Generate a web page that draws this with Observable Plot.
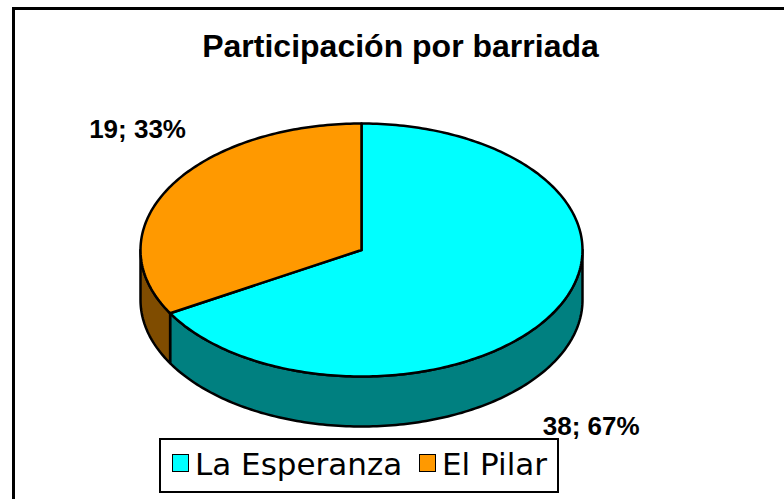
<!DOCTYPE html>
<html><head><meta charset="utf-8">
<script src="https://cdn.jsdelivr.net/npm/d3@7"></script>
<script src="https://cdn.jsdelivr.net/npm/@observablehq/plot@0.6"></script>
<style>
body{margin:0;background:#fff;}
#wrap{position:relative;width:784px;height:499px;overflow:hidden;background:#fff;}
#frame{position:absolute;left:12px;top:7px;width:820px;height:540px;border-left:3px solid #000;border-top:3px solid #000;}
#chart{position:absolute;left:0;top:0;}
#title{position:absolute;left:0;top:28px;width:801px;text-align:center;font-family:"Liberation Sans",Arial,sans-serif;font-weight:bold;font-size:32px;color:#000;}
#legend{position:absolute;left:159px;top:438px;width:396px;height:51px;border:2px solid #000;background:#fff;font-family:"DejaVu Sans",sans-serif;font-size:31px;color:#000;}
.sw{position:absolute;width:15px;height:16px;border:1.5px solid #000;}
.lt{position:absolute;line-height:1;}
</style></head><body>
<div id="wrap"><div id="frame"></div><div id="chart"></div><div id="title"></div><div id="legend"></div></div>
<script>
const title = "Participación por barriada";
const categories = ["La Esperanza", "El Pilar"];
const values = [38, 19];
const topColors = ["#00FFFF", "#FF9900"];
const sideColors = ["#008080", "#7F4C00"];

document.getElementById("title").textContent = title;

const total = d3.sum(values);
const depth = 0.395; // wall height in units of the vertical radius
const deg = Math.PI / 180;

// slice angles, clockwise from 12 o'clock
let acc = 0;
const slices = values.map((v, i) => {
  const a0 = acc / total * 2 * Math.PI;
  acc += v;
  const a1 = acc / total * 2 * Math.PI;
  return {i, v, a0, a1, cat: categories[i]};
});

function arc(a0, a1, dy, id, color) {
  const n = Math.max(2, Math.ceil((a1 - a0) / deg));
  const pts = [];
  for (let k = 0; k <= n; k++) {
    const a = a0 + (a1 - a0) * k / n;
    pts.push({x: Math.sin(a), y: -Math.cos(a) + dy, id, color});
  }
  return pts;
}

const tops = [];
const sides = [];
slices.forEach(s => {
  const id = "top" + s.i;
  tops.push({x: 0, y: 0, id, color: topColors[s.i]});
  tops.push(...arc(s.a0, s.a1, 0, id, topColors[s.i]));
  tops.push({x: 0, y: 0, id, color: topColors[s.i]});
  const lo = Math.max(s.a0, Math.PI / 2), hi = Math.min(s.a1, 3 * Math.PI / 2);
  if (hi > lo) {
    const sid = "side" + s.i;
    const up = arc(lo, hi, 0, sid, sideColors[s.i]);
    const down = arc(lo, hi, depth, sid, sideColors[s.i]).reverse();
    sides.push(...up, ...down, up[0]);
  }
});

const labels = slices.map(s => {
  const mid = (s.a0 + s.a1) / 2;
  const front = -Math.cos(mid) > 0;
  return {
    x: front ? 1.2 * Math.sin(mid) : 1.17 * Math.sin(mid),
    y: -1.2 * Math.cos(mid) + (front ? depth + 0.4 : -0.35),
    text: `${s.v}; ${Math.round(s.v / total * 100)}%`
  };
});

const plot = Plot.plot({
  width: 784,
  height: 499,
  margin: 0,
  x: {domain: [-1, 1], range: [140, 582], axis: null},
  y: {domain: [-1, 1], range: [123, 376], axis: null},
  color: {type: "identity"},
  style: {background: "transparent", overflow: "visible"},
  marks: [
    Plot.line(sides, {x: "x", y: "y", z: "id", fill: "color", stroke: "#000", strokeWidth: 2.5, strokeLinejoin: "round"}),
    Plot.line(tops, {x: "x", y: "y", z: "id", fill: "color", stroke: "#000", strokeWidth: 2.5, strokeLinejoin: "round"}),
    Plot.text(labels, {x: "x", y: "y", text: "text", fill: "#000", fontSize: 26, fontWeight: "bold", fontFamily: "Liberation Sans, Arial, sans-serif"})
  ]
});
document.getElementById("chart").appendChild(plot);

// legend
const leg = document.getElementById("legend");
const swX = [11, 258], txX = [34, 281];
categories.forEach((c, i) => {
  const sw = document.createElement("div");
  sw.className = "sw";
  sw.style.left = swX[i] + "px";
  sw.style.top = "14px";
  sw.style.background = topColors[i];
  leg.appendChild(sw);
  const t = document.createElement("div");
  t.className = "lt";
  t.style.left = txX[i] + "px";
  t.style.top = "9px";
  t.textContent = c;
  leg.appendChild(t);
});
</script>
</body></html>
